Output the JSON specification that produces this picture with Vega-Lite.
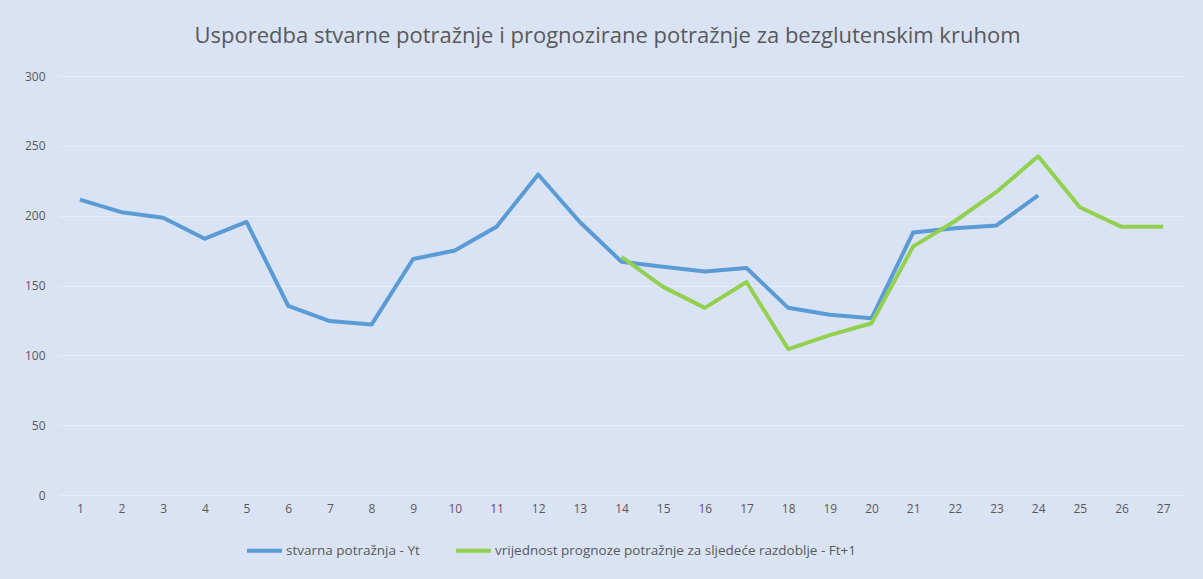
{
  "$schema": "https://vega.github.io/schema/vega-lite/v6.json",
  "width": 1125,
  "height": 419,
  "autosize": {"type": "none"},
  "padding": {"left": 59, "top": 76, "right": 19, "bottom": 84},
  "background": "#dae3f3",
  "title": {
    "text": "Usporedba stvarne potražnje i prognozirane potražnje za bezglutenskim kruhom",
    "fontSize": 22,
    "font": "Open Sans",
    "fontWeight": "normal",
    "color": "#595959",
    "offset": 22,
    "dx": -14,
    "anchor": "middle"
  },
  "datasets": {
    "rows": [
      {"t": 1, "s": "stvarna potražnja - Yt", "v": 211.5},
      {"t": 2, "s": "stvarna potražnja - Yt", "v": 202.5},
      {"t": 3, "s": "stvarna potražnja - Yt", "v": 198.5},
      {"t": 4, "s": "stvarna potražnja - Yt", "v": 183.5},
      {"t": 5, "s": "stvarna potražnja - Yt", "v": 195.5},
      {"t": 6, "s": "stvarna potražnja - Yt", "v": 135.5},
      {"t": 7, "s": "stvarna potražnja - Yt", "v": 124.5},
      {"t": 8, "s": "stvarna potražnja - Yt", "v": 122},
      {"t": 9, "s": "stvarna potražnja - Yt", "v": 169},
      {"t": 10, "s": "stvarna potražnja - Yt", "v": 175},
      {"t": 11, "s": "stvarna potražnja - Yt", "v": 192},
      {"t": 12, "s": "stvarna potražnja - Yt", "v": 229.5},
      {"t": 13, "s": "stvarna potražnja - Yt", "v": 195.5},
      {"t": 14, "s": "stvarna potražnja - Yt", "v": 167},
      {"t": 15, "s": "stvarna potražnja - Yt", "v": 163.5},
      {"t": 16, "s": "stvarna potražnja - Yt", "v": 160},
      {"t": 17, "s": "stvarna potražnja - Yt", "v": 162.5},
      {"t": 18, "s": "stvarna potražnja - Yt", "v": 134},
      {"t": 19, "s": "stvarna potražnja - Yt", "v": 129},
      {"t": 20, "s": "stvarna potražnja - Yt", "v": 126.5},
      {"t": 21, "s": "stvarna potražnja - Yt", "v": 188},
      {"t": 22, "s": "stvarna potražnja - Yt", "v": 191},
      {"t": 23, "s": "stvarna potražnja - Yt", "v": 193},
      {"t": 24, "s": "stvarna potražnja - Yt", "v": 214.5},
      {"t": 14, "s": "vrijednost prognoze potražnje za sljedeće razdoblje - Ft+1", "v": 170.5},
      {"t": 15, "s": "vrijednost prognoze potražnje za sljedeće razdoblje - Ft+1", "v": 149},
      {"t": 16, "s": "vrijednost prognoze potražnje za sljedeće razdoblje - Ft+1", "v": 134},
      {"t": 17, "s": "vrijednost prognoze potražnje za sljedeće razdoblje - Ft+1", "v": 152.5},
      {"t": 18, "s": "vrijednost prognoze potražnje za sljedeće razdoblje - Ft+1", "v": 104.5},
      {"t": 19, "s": "vrijednost prognoze potražnje za sljedeće razdoblje - Ft+1", "v": 114.5},
      {"t": 20, "s": "vrijednost prognoze potražnje za sljedeće razdoblje - Ft+1", "v": 123},
      {"t": 21, "s": "vrijednost prognoze potražnje za sljedeće razdoblje - Ft+1", "v": 178},
      {"t": 22, "s": "vrijednost prognoze potražnje za sljedeće razdoblje - Ft+1", "v": 196},
      {"t": 23, "s": "vrijednost prognoze potražnje za sljedeće razdoblje - Ft+1", "v": 217},
      {"t": 24, "s": "vrijednost prognoze potražnje za sljedeće razdoblje - Ft+1", "v": 242.5},
      {"t": 25, "s": "vrijednost prognoze potražnje za sljedeće razdoblje - Ft+1", "v": 206},
      {"t": 26, "s": "vrijednost prognoze potražnje za sljedeće razdoblje - Ft+1", "v": 192},
      {"t": 27, "s": "vrijednost prognoze potražnje za sljedeće razdoblje - Ft+1", "v": 192}
    ]
  },
  "data": {"name": "rows"},
  "mark": {"type": "line", "strokeWidth": 4, "strokeJoin": "round"},
  "encoding": {
    "x": {
      "field": "t",
      "type": "ordinal",
      "scale": {"domain": [1,2,3,4,5,6,7,8,9,10,11,12,13,14,15,16,17,18,19,20,21,22,23,24,25,26,27], "paddingInner": 0, "paddingOuter": 0.5},
      "axis": {
        "title": null,
        "labelAngle": 0,
        "ticks": false,
        "domain": false,
        "grid": false,
        "labelPadding": 8,
        "labelFontSize": 12,
        "labelFont": "Open Sans",
        "labelColor": "#595959"
      }
    },
    "y": {
      "field": "v",
      "type": "quantitative",
      "scale": {"domain": [0, 300], "nice": false},
      "axis": {
        "title": null,
        "values": [0, 50, 100, 150, 200, 250, 300],
        "ticks": false,
        "domain": false,
        "grid": true,
        "gridColor": "#e6ebf5",
        "gridWidth": 1,
        "labelPadding": 14,
        "labelFontSize": 12,
        "labelFont": "Open Sans",
        "labelColor": "#595959"
      }
    },
    "color": {
      "field": "s",
      "type": "nominal",
      "scale": {
        "domain": ["stvarna potražnja - Yt", "vrijednost prognoze potražnje za sljedeće razdoblje - Ft+1"],
        "range": ["#5b9bd5", "#92d050"]
      },
      "legend": {
        "title": null,
        "orient": "none",
        "legendX": 186,
        "legendY": 455,
        "direction": "horizontal",
        "symbolType": "stroke",
        "symbolStrokeWidth": 4,
        "symbolSize": 1225,
        "labelFontSize": 13.5,
        "labelFont": "Open Sans",
        "labelColor": "#595959",
        "labelOffset": 2,
        "columnPadding": 28,
        "labelLimit": 600
      }
    }
  },
  "config": {
    "view": {"stroke": null}
  }
}
